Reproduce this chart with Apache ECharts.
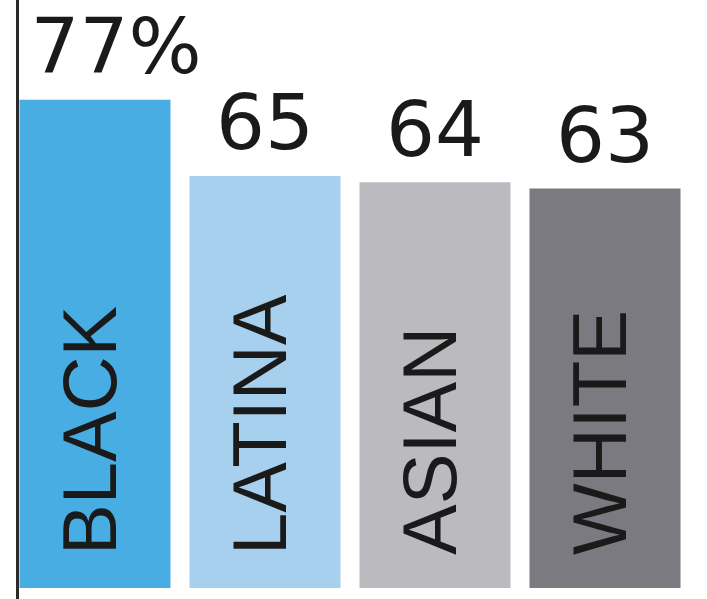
<!DOCTYPE html>
<html>
<head>
<meta charset="utf-8">
<script src="https://cdn.jsdelivr.net/npm/echarts@6/dist/echarts.min.js"></script>
<style>
  html, body { margin: 0; padding: 0; background: #ffffff; }
  #chart { width: 707px; height: 599px; }
</style>
</head>
<body>
<div id="chart"></div>
<script>
// Share of each group, in percent
const categories = ['BLACK', 'LATINA', 'ASIAN', 'WHITE'];
const values = [77, 65, 64, 63];
const barColors = ['#48ADE2', '#A7D0EE', '#BBBBBF', '#7B7A80'];

const textColor = '#1a1a1a';
const nameFont = '"Liberation Sans", Arial, sans-serif';
const numberFont = '"DejaVu Sans", sans-serif';

const chart = echarts.init(document.getElementById('chart'), null, { renderer: 'canvas' });

chart.setOption({
  animation: false,
  backgroundColor: '#ffffff',
  grid: { left: 10, right: 17, top: 0, bottom: 0, containLabel: false },
  xAxis: {
    type: 'category',
    data: categories,
    axisLine: { show: false },
    axisTick: { show: false },
    axisLabel: { show: false }
  },
  yAxis: {
    type: 'value',
    min: -1.735,
    max: 92.75,
    offset: -7,
    axisLine: { show: true, lineStyle: { color: '#2a2a2a', width: 3 } },
    axisTick: { show: false },
    axisLabel: { show: false },
    splitLine: { show: false }
  },
  series: [
    {
      type: 'bar',
      barWidth: 151,
      data: values.map((v, i) => ({ value: v, itemStyle: { color: barColors[i] } })),
      label: {
        show: true,
        formatter: '{b}',
        position: 'insideBottom',
        distance: 33,
        rotate: 90,
        align: 'left',
        verticalAlign: 'middle',
        fontFamily: nameFont,
        fontSize: 76,
        color: textColor
      }
    },
    {
      // value labels above each bar
      type: 'scatter',
      symbolSize: 0,
      silent: true,
      itemStyle: { opacity: 1 },
      data: values.map((v, i) => ({
        value: v,
        label: i === 0 ? { offset: [21, 0] } : {}
      })),
      label: {
        show: true,
        position: 'top',
        distance: 8,
        formatter: p => (p.dataIndex === 0 ? p.value + '%' : String(p.value)),
        fontFamily: numberFont,
        fontSize: 77,
        color: textColor
      }
    }
  ]
});
</script>
</body>
</html>
